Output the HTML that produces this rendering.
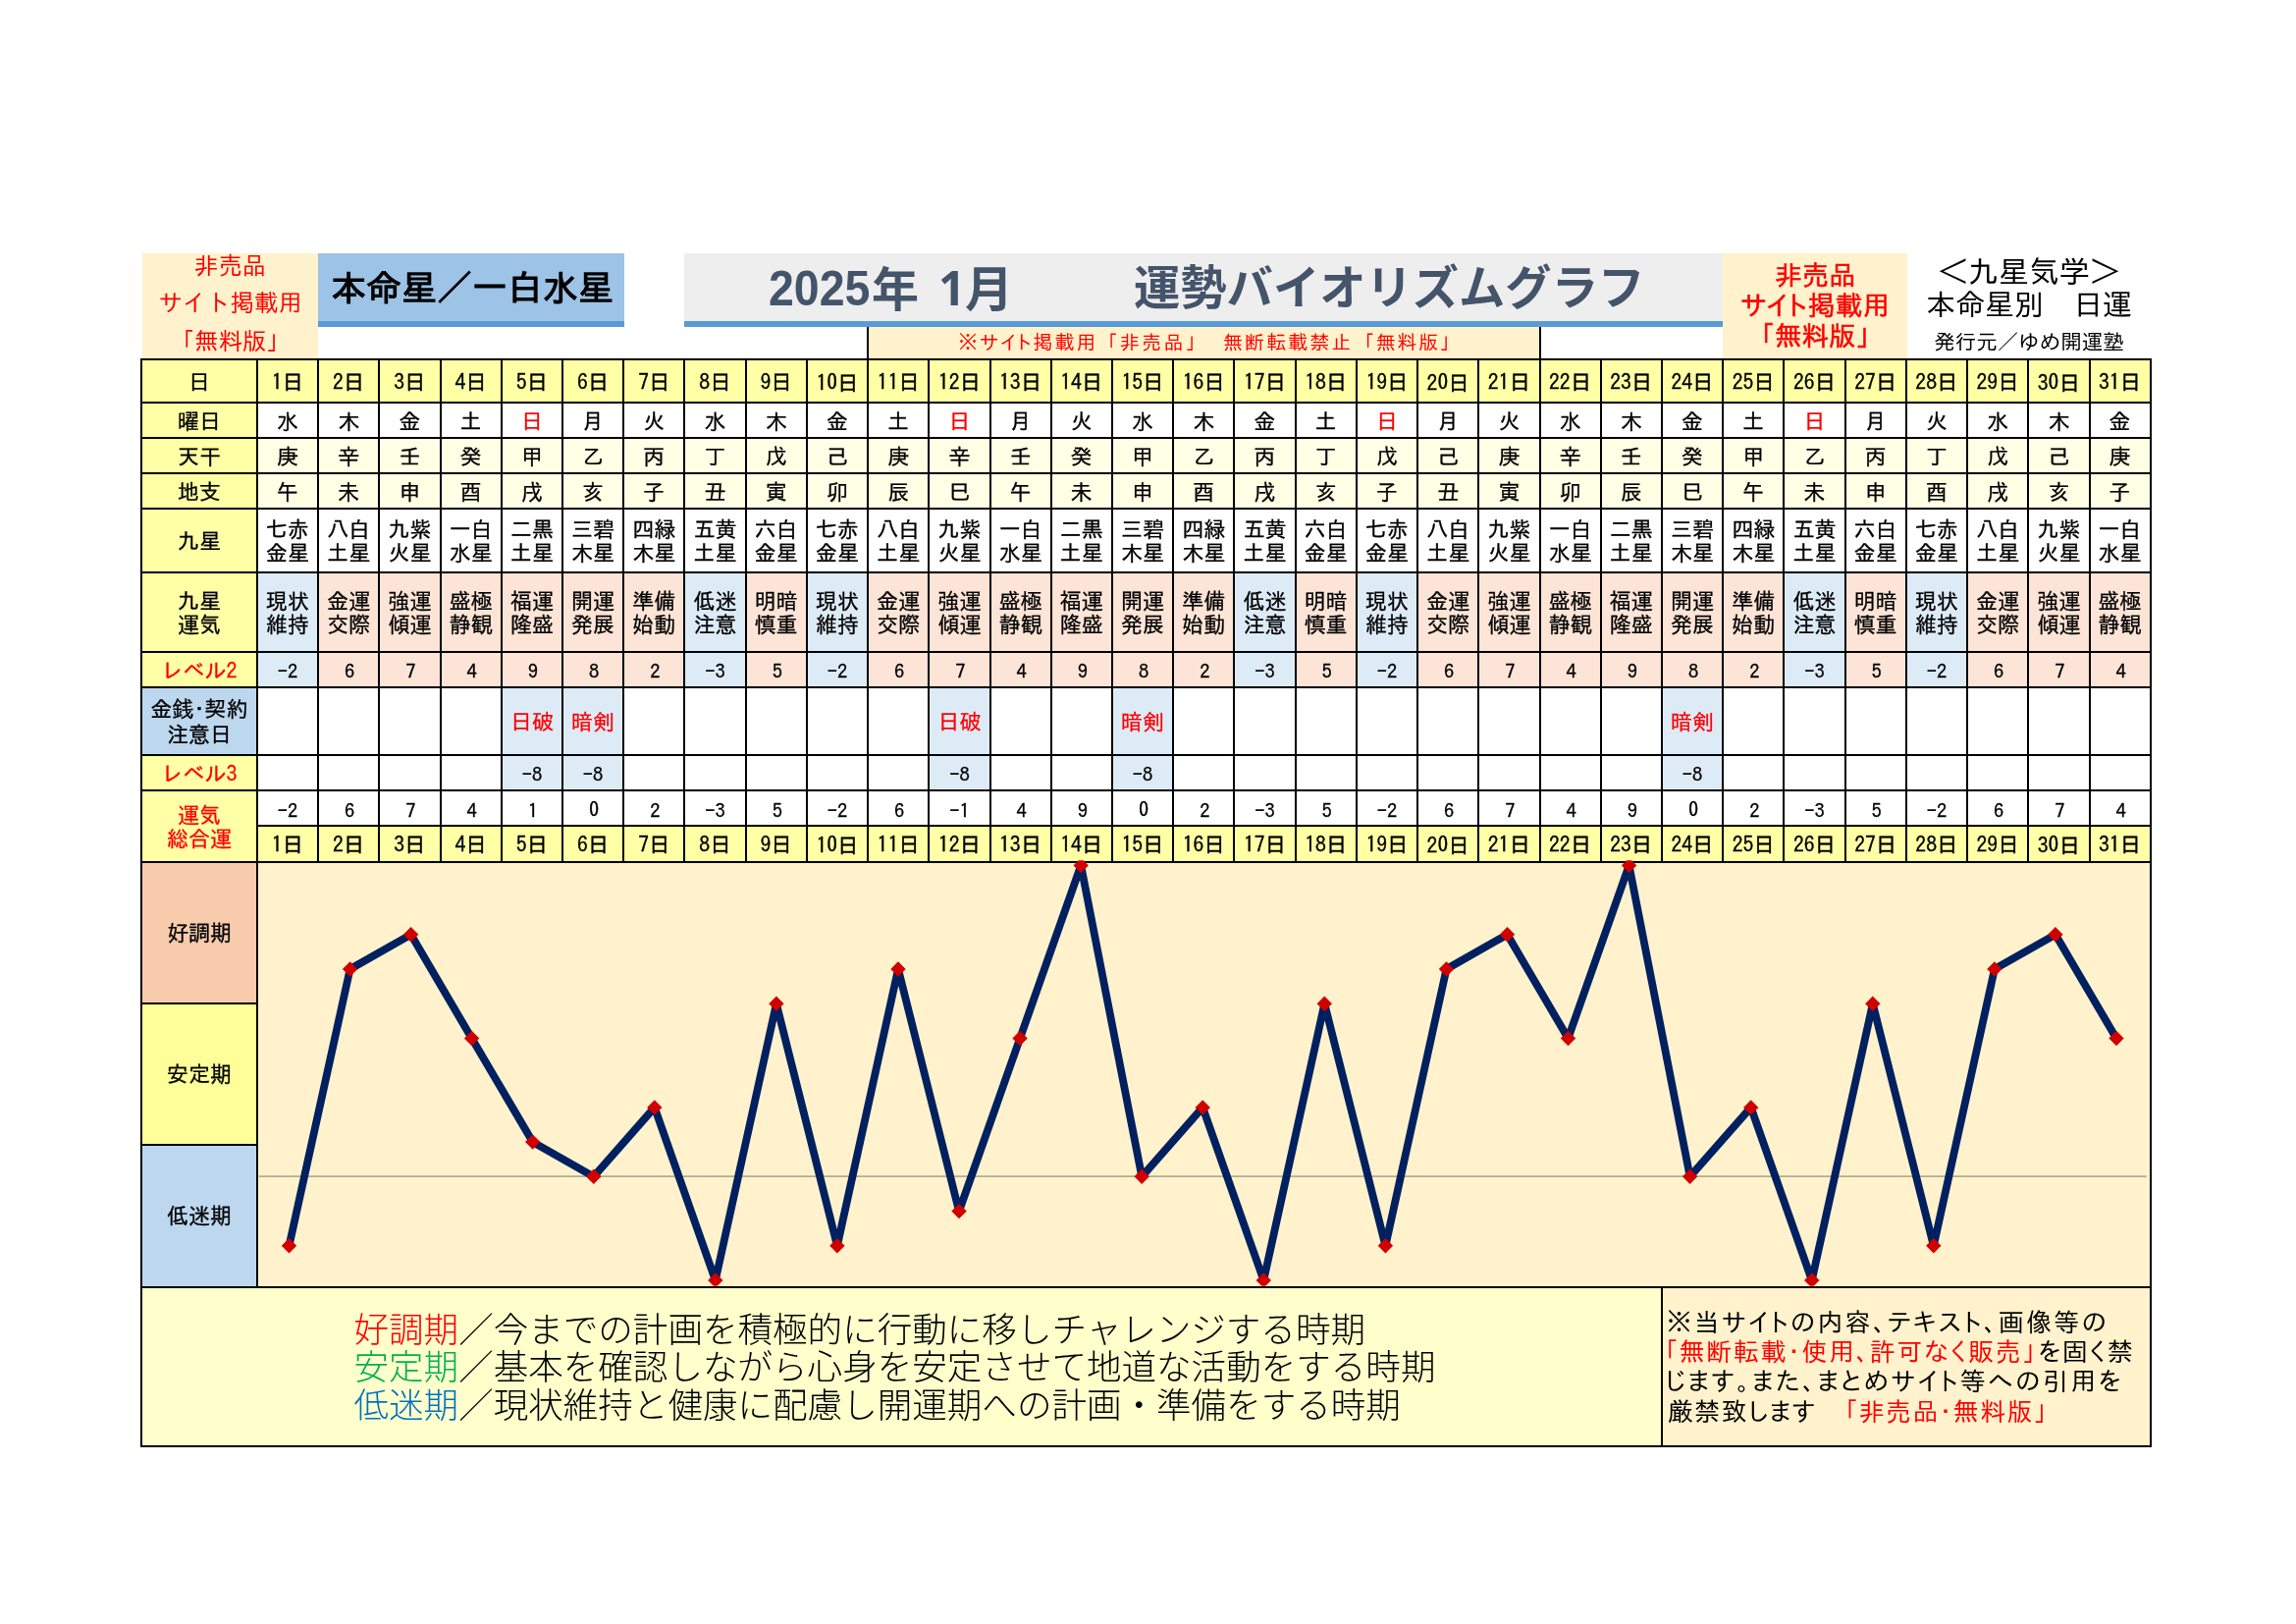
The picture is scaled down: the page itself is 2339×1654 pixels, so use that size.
<!DOCTYPE html>
<html lang="ja"><head><meta charset="utf-8"><title>運勢バイオリズムグラフ</title><style>
*{margin:0;padding:0;box-sizing:border-box}
html,body{width:2339px;height:1654px;background:#fff;overflow:hidden}
body{position:relative;font-family:"IPAGothic","Noto Sans CJK JP",sans-serif;color:#000}
.b{position:absolute}
.t{position:absolute;display:flex;align-items:center;justify-content:center;text-align:center;white-space:nowrap;font-size:22px;line-height:1}
.c{font-size:22px;padding-top:2px;-webkit-text-stroke-width:0.3px}
.lh2{line-height:24.6px}
.lh26{line-height:26.4px}
.red{color:#FF0000}
.hd{font-size:21.6px;padding-top:2.5px;-webkit-text-stroke:0.35px #000}
.hd1{padding-top:4.3px}
.num{font-size:20.5px;padding-top:3px;padding-left:2px}
.neg{padding-left:0}
.np{padding-top:0}
.tl{color:#FF0000;font-size:24.4px;line-height:38.8px;padding-bottom:5px}
.tr{color:#FF0000;font-size:27.5px;line-height:31px;font-family:"IPAPGothic","IPAGothic",sans-serif;-webkit-text-stroke:0.55px #FF0000;padding-bottom:0.6px}
.tb{font-size:36px;font-weight:bold;justify-content:flex-start;padding-left:13px;padding-bottom:2px}
.tt{color:#44546A;font-weight:bold;justify-content:flex-start}
.ty{position:absolute;white-space:nowrap;color:#44546A;font-weight:bold;line-height:1;font-family:"Liberation Sans",sans-serif;font-size:50px;transform:scaleX(0.93);transform-origin:0 0}
.ty1{position:absolute;white-space:nowrap;color:#44546A;font-weight:bold;line-height:1;font-family:"Noto Sans","Liberation Sans",sans-serif;font-size:48px}
.tk{position:absolute;white-space:nowrap;color:#44546A;font-weight:bold;line-height:1;font-family:"Noto Sans CJK JP",sans-serif;font-size:48px}
.tg{position:absolute;white-space:nowrap;color:#44546A;font-weight:bold;line-height:1;font-family:"Noto Sans CJK JP",sans-serif;font-size:47.3px}
.k1{font-size:31px;padding-bottom:6px}
.k2{font-size:30px}
.k3{font-size:21.5px;padding-top:2px}
.nt{position:absolute;white-space:nowrap;color:#FF0000;font-size:20px;line-height:24px}
.ntp{font-family:"IPAPGothic","IPAGothic",sans-serif}
.lg{position:absolute;white-space:nowrap;font-family:"Noto Sans CJK JP",sans-serif;font-weight:300;font-size:35.55px;line-height:38.5px;color:#000}
.nb{position:absolute;white-space:nowrap;font-family:"IPAPGothic","IPAGothic",sans-serif;font-size:26px;line-height:30.5px;color:#000}
.nb .r{color:#FF0000}
.ch{position:absolute;left:0;top:0;pointer-events:none}
#w{position:absolute;left:0;top:0;width:2339px;height:1654px;will-change:transform}
.z{font-family:"Noto Sans Mono CJK JP","IPAGothic",monospace;position:relative;top:-0.09em}
</style></head><body><div id="w">
<div class="b" style="left:145.00px;top:258.00px;width:179.20px;height:106.50px;background:#FFF2CC;"></div>
<div class="t tl" style="left:145.00px;top:258.00px;width:179.20px;height:106.50px;"><div>非売品<br>サイト掲載用<br>「無料版」</div></div>
<div class="b" style="left:324.00px;top:258.00px;width:311.80px;height:75.20px;background:#9DC3E6;"></div>
<div class="b" style="left:324.00px;top:327.20px;width:311.80px;height:6.00px;background:#5B9BD5;"></div>
<div class="t tb" style="left:324.00px;top:258.00px;width:311.80px;height:69.20px;"><div>本命星／一白水星</div></div>
<div class="b" style="left:697.00px;top:258.00px;width:1058.40px;height:75.20px;background:#EEEEEE;"></div>
<div class="b" style="left:697.00px;top:327.20px;width:1058.40px;height:6.00px;background:#5B9BD5;"></div>
<div class="ty" style="left:782.5px;top:269px">2025</div>
<div class="tk" style="left:888px;top:266.5px">年</div>
<div class="ty1" style="left:956px;top:269px">1</div>
<div class="tk" style="left:983px;top:266px;font-size:49px">月</div>
<div class="tg" style="left:1155px;top:266px">運勢バイオリズムグラフ</div>
<div class="b" style="left:1755.40px;top:258.00px;width:187.60px;height:106.50px;background:#FFF2CC;"></div>
<div class="t tr" style="left:1755.40px;top:258.00px;width:187.60px;height:106.50px;"><div>非売品<br><span style="letter-spacing:0.6px;margin-right:-0.6px">サイト掲載用</span><br>「無料版」</div></div>
<div class="t k1" style="left:1943.00px;top:258.00px;width:248.00px;height:42.00px;"><div>＜九星気学＞</div></div>
<div class="t k2" style="left:1943.00px;top:290.00px;width:248.00px;height:40.00px;"><div>本命星別　日運</div></div>
<div class="t k3" style="left:1943.00px;top:334.00px;width:248.00px;height:28.00px;"><div>発行元／ゆめ開運塾</div></div>
<div class="b" style="left:884.10px;top:333.20px;width:684.42px;height:32.80px;background:#FFF2CC;"></div>
<div class="b" style="left:883.10px;top:333.20px;width:2.00px;height:33.80px;background:#000;"></div>
<div class="b" style="left:1567.52px;top:333.20px;width:2.00px;height:33.80px;background:#000;"></div>
<div class="nt ntp" style="left:976px;top:336px;letter-spacing:2px">※サイト掲載用</div>
<div class="nt" style="left:1118.5px;top:336px;letter-spacing:2.3px">「非売品」</div>
<div class="nt" style="left:1246px;top:336px;letter-spacing:2.1px">無断転載禁止</div>
<div class="nt" style="left:1380px;top:336px;letter-spacing:1.7px">「無料版」</div>
<div class="b" style="left:144.00px;top:366.00px;width:117.90px;height:333.80px;background:#FFFFA5;"></div>
<div class="b" style="left:144.00px;top:699.80px;width:117.90px;height:68.80px;background:#BDD7EE;"></div>
<div class="b" style="left:144.00px;top:768.60px;width:117.90px;height:109.20px;background:#FFFFA5;"></div>
<div class="b" style="left:144.00px;top:877.80px;width:117.90px;height:144.20px;background:#F8CBAD;"></div>
<div class="b" style="left:144.00px;top:1022.00px;width:117.90px;height:144.25px;background:#FFFF99;"></div>
<div class="b" style="left:144.00px;top:1166.25px;width:117.90px;height:144.35px;background:#BDD7EE;"></div>
<div class="t c " style="left:144.00px;top:366.00px;width:117.90px;height:43.50px;"><div>日</div></div>
<div class="t c " style="left:144.00px;top:409.50px;width:117.90px;height:36.00px;"><div>曜日</div></div>
<div class="t c " style="left:144.00px;top:445.50px;width:117.90px;height:36.25px;"><div>天干</div></div>
<div class="t c " style="left:144.00px;top:481.75px;width:117.90px;height:36.25px;"><div>地支</div></div>
<div class="t c " style="left:144.00px;top:518.00px;width:117.90px;height:64.70px;"><div>九星</div></div>
<div class="t c lh2" style="left:144.00px;top:582.70px;width:117.90px;height:81.20px;"><div>九星<br>運気</div></div>
<div class="t c red" style="left:144.00px;top:663.90px;width:117.90px;height:35.90px;"><div>レベル2</div></div>
<div class="t c lh26" style="left:144.00px;top:699.80px;width:117.90px;height:68.80px;"><div>金銭･契約<br>注意日</div></div>
<div class="t c red" style="left:144.00px;top:768.60px;width:117.90px;height:36.60px;"><div>レベル3</div></div>
<div class="t c red lh2" style="left:144.00px;top:805.20px;width:117.90px;height:72.60px;"><div>運気<br>総合運</div></div>
<div class="t c np" style="left:144.00px;top:877.80px;width:117.90px;height:144.20px;"><div>好調期</div></div>
<div class="t c np" style="left:144.00px;top:1022.00px;width:117.90px;height:144.25px;"><div>安定期</div></div>
<div class="t c np" style="left:144.00px;top:1166.25px;width:117.90px;height:144.35px;"><div>低迷期</div></div>
<div class="b" style="left:261.90px;top:366.00px;width:62.22px;height:43.50px;background:#FFFFA5;"></div>
<div class="b" style="left:261.90px;top:445.50px;width:62.22px;height:72.50px;background:#FFFFE6;"></div>
<div class="b" style="left:261.90px;top:582.70px;width:62.22px;height:117.10px;background:#DDEBF7;"></div>
<div class="b" style="left:261.90px;top:841.40px;width:62.22px;height:36.40px;background:#FFFFA5;"></div>
<div class="t c hd hd1" style="left:261.90px;top:366.00px;width:62.22px;height:43.50px;"><div>1日</div></div>
<div class="t c" style="left:261.90px;top:409.50px;width:62.22px;height:36.00px;"><div>水</div></div>
<div class="t c" style="left:261.90px;top:445.50px;width:62.22px;height:36.25px;"><div>庚</div></div>
<div class="t c" style="left:261.90px;top:481.75px;width:62.22px;height:36.25px;"><div>午</div></div>
<div class="t c lh2" style="left:261.90px;top:518.00px;width:62.22px;height:64.70px;"><div>七赤<br>金星</div></div>
<div class="t c lh2" style="left:261.90px;top:582.70px;width:62.22px;height:81.20px;"><div>現状<br>維持</div></div>
<div class="t c num neg" style="left:261.90px;top:663.90px;width:62.22px;height:35.90px;"><div>−2</div></div>
<div class="t c num neg" style="left:261.90px;top:805.20px;width:62.22px;height:36.20px;"><div>−2</div></div>
<div class="t c hd" style="left:261.90px;top:841.40px;width:62.22px;height:36.40px;"><div>1日</div></div>
<div class="b" style="left:324.12px;top:366.00px;width:62.22px;height:43.50px;background:#FFFFA5;"></div>
<div class="b" style="left:324.12px;top:445.50px;width:62.22px;height:72.50px;background:#FFFFE6;"></div>
<div class="b" style="left:324.12px;top:582.70px;width:62.22px;height:117.10px;background:#FCE4D6;"></div>
<div class="b" style="left:324.12px;top:841.40px;width:62.22px;height:36.40px;background:#FFFFA5;"></div>
<div class="t c hd hd1" style="left:324.12px;top:366.00px;width:62.22px;height:43.50px;"><div>2日</div></div>
<div class="t c" style="left:324.12px;top:409.50px;width:62.22px;height:36.00px;"><div>木</div></div>
<div class="t c" style="left:324.12px;top:445.50px;width:62.22px;height:36.25px;"><div>辛</div></div>
<div class="t c" style="left:324.12px;top:481.75px;width:62.22px;height:36.25px;"><div>未</div></div>
<div class="t c lh2" style="left:324.12px;top:518.00px;width:62.22px;height:64.70px;"><div>八白<br>土星</div></div>
<div class="t c lh2" style="left:324.12px;top:582.70px;width:62.22px;height:81.20px;"><div>金運<br>交際</div></div>
<div class="t c num" style="left:324.12px;top:663.90px;width:62.22px;height:35.90px;"><div>6</div></div>
<div class="t c num" style="left:324.12px;top:805.20px;width:62.22px;height:36.20px;"><div>6</div></div>
<div class="t c hd" style="left:324.12px;top:841.40px;width:62.22px;height:36.40px;"><div>2日</div></div>
<div class="b" style="left:386.34px;top:366.00px;width:62.22px;height:43.50px;background:#FFFFA5;"></div>
<div class="b" style="left:386.34px;top:445.50px;width:62.22px;height:72.50px;background:#FFFFE6;"></div>
<div class="b" style="left:386.34px;top:582.70px;width:62.22px;height:117.10px;background:#FCE4D6;"></div>
<div class="b" style="left:386.34px;top:841.40px;width:62.22px;height:36.40px;background:#FFFFA5;"></div>
<div class="t c hd hd1" style="left:386.34px;top:366.00px;width:62.22px;height:43.50px;"><div>3日</div></div>
<div class="t c" style="left:386.34px;top:409.50px;width:62.22px;height:36.00px;"><div>金</div></div>
<div class="t c" style="left:386.34px;top:445.50px;width:62.22px;height:36.25px;"><div>壬</div></div>
<div class="t c" style="left:386.34px;top:481.75px;width:62.22px;height:36.25px;"><div>申</div></div>
<div class="t c lh2" style="left:386.34px;top:518.00px;width:62.22px;height:64.70px;"><div>九紫<br>火星</div></div>
<div class="t c lh2" style="left:386.34px;top:582.70px;width:62.22px;height:81.20px;"><div>強運<br>傾運</div></div>
<div class="t c num" style="left:386.34px;top:663.90px;width:62.22px;height:35.90px;"><div>7</div></div>
<div class="t c num" style="left:386.34px;top:805.20px;width:62.22px;height:36.20px;"><div>7</div></div>
<div class="t c hd" style="left:386.34px;top:841.40px;width:62.22px;height:36.40px;"><div>3日</div></div>
<div class="b" style="left:448.56px;top:366.00px;width:62.22px;height:43.50px;background:#FFFFA5;"></div>
<div class="b" style="left:448.56px;top:445.50px;width:62.22px;height:72.50px;background:#FFFFE6;"></div>
<div class="b" style="left:448.56px;top:582.70px;width:62.22px;height:117.10px;background:#FCE4D6;"></div>
<div class="b" style="left:448.56px;top:841.40px;width:62.22px;height:36.40px;background:#FFFFA5;"></div>
<div class="t c hd hd1" style="left:448.56px;top:366.00px;width:62.22px;height:43.50px;"><div>4日</div></div>
<div class="t c" style="left:448.56px;top:409.50px;width:62.22px;height:36.00px;"><div>土</div></div>
<div class="t c" style="left:448.56px;top:445.50px;width:62.22px;height:36.25px;"><div>癸</div></div>
<div class="t c" style="left:448.56px;top:481.75px;width:62.22px;height:36.25px;"><div>酉</div></div>
<div class="t c lh2" style="left:448.56px;top:518.00px;width:62.22px;height:64.70px;"><div>一白<br>水星</div></div>
<div class="t c lh2" style="left:448.56px;top:582.70px;width:62.22px;height:81.20px;"><div>盛極<br>静観</div></div>
<div class="t c num" style="left:448.56px;top:663.90px;width:62.22px;height:35.90px;"><div>4</div></div>
<div class="t c num" style="left:448.56px;top:805.20px;width:62.22px;height:36.20px;"><div>4</div></div>
<div class="t c hd" style="left:448.56px;top:841.40px;width:62.22px;height:36.40px;"><div>4日</div></div>
<div class="b" style="left:510.78px;top:366.00px;width:62.22px;height:43.50px;background:#FFFFA5;"></div>
<div class="b" style="left:510.78px;top:445.50px;width:62.22px;height:72.50px;background:#FFFFE6;"></div>
<div class="b" style="left:510.78px;top:582.70px;width:62.22px;height:117.10px;background:#FCE4D6;"></div>
<div class="b" style="left:510.78px;top:699.80px;width:62.22px;height:105.40px;background:#DDEBF7;"></div>
<div class="b" style="left:510.78px;top:841.40px;width:62.22px;height:36.40px;background:#FFFFA5;"></div>
<div class="t c hd hd1" style="left:510.78px;top:366.00px;width:62.22px;height:43.50px;"><div>5日</div></div>
<div class="t c red" style="left:510.78px;top:409.50px;width:62.22px;height:36.00px;"><div>日</div></div>
<div class="t c" style="left:510.78px;top:445.50px;width:62.22px;height:36.25px;"><div>甲</div></div>
<div class="t c" style="left:510.78px;top:481.75px;width:62.22px;height:36.25px;"><div>戌</div></div>
<div class="t c lh2" style="left:510.78px;top:518.00px;width:62.22px;height:64.70px;"><div>二黒<br>土星</div></div>
<div class="t c lh2" style="left:510.78px;top:582.70px;width:62.22px;height:81.20px;"><div>福運<br>隆盛</div></div>
<div class="t c num" style="left:510.78px;top:663.90px;width:62.22px;height:35.90px;"><div>9</div></div>
<div class="t c red" style="left:510.78px;top:699.80px;width:62.22px;height:68.80px;"><div>日破</div></div>
<div class="t c num neg" style="left:510.78px;top:768.60px;width:62.22px;height:36.60px;"><div>−8</div></div>
<div class="t c num" style="left:510.78px;top:805.20px;width:62.22px;height:36.20px;"><div>1</div></div>
<div class="t c hd" style="left:510.78px;top:841.40px;width:62.22px;height:36.40px;"><div>5日</div></div>
<div class="b" style="left:573.00px;top:366.00px;width:62.22px;height:43.50px;background:#FFFFA5;"></div>
<div class="b" style="left:573.00px;top:445.50px;width:62.22px;height:72.50px;background:#FFFFE6;"></div>
<div class="b" style="left:573.00px;top:582.70px;width:62.22px;height:117.10px;background:#FCE4D6;"></div>
<div class="b" style="left:573.00px;top:699.80px;width:62.22px;height:105.40px;background:#DDEBF7;"></div>
<div class="b" style="left:573.00px;top:841.40px;width:62.22px;height:36.40px;background:#FFFFA5;"></div>
<div class="t c hd hd1" style="left:573.00px;top:366.00px;width:62.22px;height:43.50px;"><div>6日</div></div>
<div class="t c" style="left:573.00px;top:409.50px;width:62.22px;height:36.00px;"><div>月</div></div>
<div class="t c" style="left:573.00px;top:445.50px;width:62.22px;height:36.25px;"><div>乙</div></div>
<div class="t c" style="left:573.00px;top:481.75px;width:62.22px;height:36.25px;"><div>亥</div></div>
<div class="t c lh2" style="left:573.00px;top:518.00px;width:62.22px;height:64.70px;"><div>三碧<br>木星</div></div>
<div class="t c lh2" style="left:573.00px;top:582.70px;width:62.22px;height:81.20px;"><div>開運<br>発展</div></div>
<div class="t c num" style="left:573.00px;top:663.90px;width:62.22px;height:35.90px;"><div>8</div></div>
<div class="t c red" style="left:573.00px;top:699.80px;width:62.22px;height:68.80px;"><div>暗剣</div></div>
<div class="t c num neg" style="left:573.00px;top:768.60px;width:62.22px;height:36.60px;"><div>−8</div></div>
<div class="t c num" style="left:573.00px;top:805.20px;width:62.22px;height:36.20px;"><div><span class="z">0</span></div></div>
<div class="t c hd" style="left:573.00px;top:841.40px;width:62.22px;height:36.40px;"><div>6日</div></div>
<div class="b" style="left:635.22px;top:366.00px;width:62.22px;height:43.50px;background:#FFFFA5;"></div>
<div class="b" style="left:635.22px;top:445.50px;width:62.22px;height:72.50px;background:#FFFFE6;"></div>
<div class="b" style="left:635.22px;top:582.70px;width:62.22px;height:117.10px;background:#FCE4D6;"></div>
<div class="b" style="left:635.22px;top:841.40px;width:62.22px;height:36.40px;background:#FFFFA5;"></div>
<div class="t c hd hd1" style="left:635.22px;top:366.00px;width:62.22px;height:43.50px;"><div>7日</div></div>
<div class="t c" style="left:635.22px;top:409.50px;width:62.22px;height:36.00px;"><div>火</div></div>
<div class="t c" style="left:635.22px;top:445.50px;width:62.22px;height:36.25px;"><div>丙</div></div>
<div class="t c" style="left:635.22px;top:481.75px;width:62.22px;height:36.25px;"><div>子</div></div>
<div class="t c lh2" style="left:635.22px;top:518.00px;width:62.22px;height:64.70px;"><div>四緑<br>木星</div></div>
<div class="t c lh2" style="left:635.22px;top:582.70px;width:62.22px;height:81.20px;"><div>準備<br>始動</div></div>
<div class="t c num" style="left:635.22px;top:663.90px;width:62.22px;height:35.90px;"><div>2</div></div>
<div class="t c num" style="left:635.22px;top:805.20px;width:62.22px;height:36.20px;"><div>2</div></div>
<div class="t c hd" style="left:635.22px;top:841.40px;width:62.22px;height:36.40px;"><div>7日</div></div>
<div class="b" style="left:697.44px;top:366.00px;width:62.22px;height:43.50px;background:#FFFFA5;"></div>
<div class="b" style="left:697.44px;top:445.50px;width:62.22px;height:72.50px;background:#FFFFE6;"></div>
<div class="b" style="left:697.44px;top:582.70px;width:62.22px;height:117.10px;background:#DDEBF7;"></div>
<div class="b" style="left:697.44px;top:841.40px;width:62.22px;height:36.40px;background:#FFFFA5;"></div>
<div class="t c hd hd1" style="left:697.44px;top:366.00px;width:62.22px;height:43.50px;"><div>8日</div></div>
<div class="t c" style="left:697.44px;top:409.50px;width:62.22px;height:36.00px;"><div>水</div></div>
<div class="t c" style="left:697.44px;top:445.50px;width:62.22px;height:36.25px;"><div>丁</div></div>
<div class="t c" style="left:697.44px;top:481.75px;width:62.22px;height:36.25px;"><div>丑</div></div>
<div class="t c lh2" style="left:697.44px;top:518.00px;width:62.22px;height:64.70px;"><div>五黄<br>土星</div></div>
<div class="t c lh2" style="left:697.44px;top:582.70px;width:62.22px;height:81.20px;"><div>低迷<br>注意</div></div>
<div class="t c num neg" style="left:697.44px;top:663.90px;width:62.22px;height:35.90px;"><div>−3</div></div>
<div class="t c num neg" style="left:697.44px;top:805.20px;width:62.22px;height:36.20px;"><div>−3</div></div>
<div class="t c hd" style="left:697.44px;top:841.40px;width:62.22px;height:36.40px;"><div>8日</div></div>
<div class="b" style="left:759.66px;top:366.00px;width:62.22px;height:43.50px;background:#FFFFA5;"></div>
<div class="b" style="left:759.66px;top:445.50px;width:62.22px;height:72.50px;background:#FFFFE6;"></div>
<div class="b" style="left:759.66px;top:582.70px;width:62.22px;height:117.10px;background:#FCE4D6;"></div>
<div class="b" style="left:759.66px;top:841.40px;width:62.22px;height:36.40px;background:#FFFFA5;"></div>
<div class="t c hd hd1" style="left:759.66px;top:366.00px;width:62.22px;height:43.50px;"><div>9日</div></div>
<div class="t c" style="left:759.66px;top:409.50px;width:62.22px;height:36.00px;"><div>木</div></div>
<div class="t c" style="left:759.66px;top:445.50px;width:62.22px;height:36.25px;"><div>戊</div></div>
<div class="t c" style="left:759.66px;top:481.75px;width:62.22px;height:36.25px;"><div>寅</div></div>
<div class="t c lh2" style="left:759.66px;top:518.00px;width:62.22px;height:64.70px;"><div>六白<br>金星</div></div>
<div class="t c lh2" style="left:759.66px;top:582.70px;width:62.22px;height:81.20px;"><div>明暗<br>慎重</div></div>
<div class="t c num" style="left:759.66px;top:663.90px;width:62.22px;height:35.90px;"><div>5</div></div>
<div class="t c num" style="left:759.66px;top:805.20px;width:62.22px;height:36.20px;"><div>5</div></div>
<div class="t c hd" style="left:759.66px;top:841.40px;width:62.22px;height:36.40px;"><div>9日</div></div>
<div class="b" style="left:821.88px;top:366.00px;width:62.22px;height:43.50px;background:#FFFFA5;"></div>
<div class="b" style="left:821.88px;top:445.50px;width:62.22px;height:72.50px;background:#FFFFE6;"></div>
<div class="b" style="left:821.88px;top:582.70px;width:62.22px;height:117.10px;background:#DDEBF7;"></div>
<div class="b" style="left:821.88px;top:841.40px;width:62.22px;height:36.40px;background:#FFFFA5;"></div>
<div class="t c hd hd1" style="left:821.88px;top:366.00px;width:62.22px;height:43.50px;"><div>1<span class="z">0</span>日</div></div>
<div class="t c" style="left:821.88px;top:409.50px;width:62.22px;height:36.00px;"><div>金</div></div>
<div class="t c" style="left:821.88px;top:445.50px;width:62.22px;height:36.25px;"><div>己</div></div>
<div class="t c" style="left:821.88px;top:481.75px;width:62.22px;height:36.25px;"><div>卯</div></div>
<div class="t c lh2" style="left:821.88px;top:518.00px;width:62.22px;height:64.70px;"><div>七赤<br>金星</div></div>
<div class="t c lh2" style="left:821.88px;top:582.70px;width:62.22px;height:81.20px;"><div>現状<br>維持</div></div>
<div class="t c num neg" style="left:821.88px;top:663.90px;width:62.22px;height:35.90px;"><div>−2</div></div>
<div class="t c num neg" style="left:821.88px;top:805.20px;width:62.22px;height:36.20px;"><div>−2</div></div>
<div class="t c hd" style="left:821.88px;top:841.40px;width:62.22px;height:36.40px;"><div>1<span class="z">0</span>日</div></div>
<div class="b" style="left:884.10px;top:366.00px;width:62.22px;height:43.50px;background:#FFFFA5;"></div>
<div class="b" style="left:884.10px;top:445.50px;width:62.22px;height:72.50px;background:#FFFFE6;"></div>
<div class="b" style="left:884.10px;top:582.70px;width:62.22px;height:117.10px;background:#FCE4D6;"></div>
<div class="b" style="left:884.10px;top:841.40px;width:62.22px;height:36.40px;background:#FFFFA5;"></div>
<div class="t c hd hd1" style="left:884.10px;top:366.00px;width:62.22px;height:43.50px;"><div>11日</div></div>
<div class="t c" style="left:884.10px;top:409.50px;width:62.22px;height:36.00px;"><div>土</div></div>
<div class="t c" style="left:884.10px;top:445.50px;width:62.22px;height:36.25px;"><div>庚</div></div>
<div class="t c" style="left:884.10px;top:481.75px;width:62.22px;height:36.25px;"><div>辰</div></div>
<div class="t c lh2" style="left:884.10px;top:518.00px;width:62.22px;height:64.70px;"><div>八白<br>土星</div></div>
<div class="t c lh2" style="left:884.10px;top:582.70px;width:62.22px;height:81.20px;"><div>金運<br>交際</div></div>
<div class="t c num" style="left:884.10px;top:663.90px;width:62.22px;height:35.90px;"><div>6</div></div>
<div class="t c num" style="left:884.10px;top:805.20px;width:62.22px;height:36.20px;"><div>6</div></div>
<div class="t c hd" style="left:884.10px;top:841.40px;width:62.22px;height:36.40px;"><div>11日</div></div>
<div class="b" style="left:946.32px;top:366.00px;width:62.22px;height:43.50px;background:#FFFFA5;"></div>
<div class="b" style="left:946.32px;top:445.50px;width:62.22px;height:72.50px;background:#FFFFE6;"></div>
<div class="b" style="left:946.32px;top:582.70px;width:62.22px;height:117.10px;background:#FCE4D6;"></div>
<div class="b" style="left:946.32px;top:699.80px;width:62.22px;height:105.40px;background:#DDEBF7;"></div>
<div class="b" style="left:946.32px;top:841.40px;width:62.22px;height:36.40px;background:#FFFFA5;"></div>
<div class="t c hd hd1" style="left:946.32px;top:366.00px;width:62.22px;height:43.50px;"><div>12日</div></div>
<div class="t c red" style="left:946.32px;top:409.50px;width:62.22px;height:36.00px;"><div>日</div></div>
<div class="t c" style="left:946.32px;top:445.50px;width:62.22px;height:36.25px;"><div>辛</div></div>
<div class="t c" style="left:946.32px;top:481.75px;width:62.22px;height:36.25px;"><div>巳</div></div>
<div class="t c lh2" style="left:946.32px;top:518.00px;width:62.22px;height:64.70px;"><div>九紫<br>火星</div></div>
<div class="t c lh2" style="left:946.32px;top:582.70px;width:62.22px;height:81.20px;"><div>強運<br>傾運</div></div>
<div class="t c num" style="left:946.32px;top:663.90px;width:62.22px;height:35.90px;"><div>7</div></div>
<div class="t c red" style="left:946.32px;top:699.80px;width:62.22px;height:68.80px;"><div>日破</div></div>
<div class="t c num neg" style="left:946.32px;top:768.60px;width:62.22px;height:36.60px;"><div>−8</div></div>
<div class="t c num neg" style="left:946.32px;top:805.20px;width:62.22px;height:36.20px;"><div>−1</div></div>
<div class="t c hd" style="left:946.32px;top:841.40px;width:62.22px;height:36.40px;"><div>12日</div></div>
<div class="b" style="left:1008.54px;top:366.00px;width:62.22px;height:43.50px;background:#FFFFA5;"></div>
<div class="b" style="left:1008.54px;top:445.50px;width:62.22px;height:72.50px;background:#FFFFE6;"></div>
<div class="b" style="left:1008.54px;top:582.70px;width:62.22px;height:117.10px;background:#FCE4D6;"></div>
<div class="b" style="left:1008.54px;top:841.40px;width:62.22px;height:36.40px;background:#FFFFA5;"></div>
<div class="t c hd hd1" style="left:1008.54px;top:366.00px;width:62.22px;height:43.50px;"><div>13日</div></div>
<div class="t c" style="left:1008.54px;top:409.50px;width:62.22px;height:36.00px;"><div>月</div></div>
<div class="t c" style="left:1008.54px;top:445.50px;width:62.22px;height:36.25px;"><div>壬</div></div>
<div class="t c" style="left:1008.54px;top:481.75px;width:62.22px;height:36.25px;"><div>午</div></div>
<div class="t c lh2" style="left:1008.54px;top:518.00px;width:62.22px;height:64.70px;"><div>一白<br>水星</div></div>
<div class="t c lh2" style="left:1008.54px;top:582.70px;width:62.22px;height:81.20px;"><div>盛極<br>静観</div></div>
<div class="t c num" style="left:1008.54px;top:663.90px;width:62.22px;height:35.90px;"><div>4</div></div>
<div class="t c num" style="left:1008.54px;top:805.20px;width:62.22px;height:36.20px;"><div>4</div></div>
<div class="t c hd" style="left:1008.54px;top:841.40px;width:62.22px;height:36.40px;"><div>13日</div></div>
<div class="b" style="left:1070.76px;top:366.00px;width:62.22px;height:43.50px;background:#FFFFA5;"></div>
<div class="b" style="left:1070.76px;top:445.50px;width:62.22px;height:72.50px;background:#FFFFE6;"></div>
<div class="b" style="left:1070.76px;top:582.70px;width:62.22px;height:117.10px;background:#FCE4D6;"></div>
<div class="b" style="left:1070.76px;top:841.40px;width:62.22px;height:36.40px;background:#FFFFA5;"></div>
<div class="t c hd hd1" style="left:1070.76px;top:366.00px;width:62.22px;height:43.50px;"><div>14日</div></div>
<div class="t c" style="left:1070.76px;top:409.50px;width:62.22px;height:36.00px;"><div>火</div></div>
<div class="t c" style="left:1070.76px;top:445.50px;width:62.22px;height:36.25px;"><div>癸</div></div>
<div class="t c" style="left:1070.76px;top:481.75px;width:62.22px;height:36.25px;"><div>未</div></div>
<div class="t c lh2" style="left:1070.76px;top:518.00px;width:62.22px;height:64.70px;"><div>二黒<br>土星</div></div>
<div class="t c lh2" style="left:1070.76px;top:582.70px;width:62.22px;height:81.20px;"><div>福運<br>隆盛</div></div>
<div class="t c num" style="left:1070.76px;top:663.90px;width:62.22px;height:35.90px;"><div>9</div></div>
<div class="t c num" style="left:1070.76px;top:805.20px;width:62.22px;height:36.20px;"><div>9</div></div>
<div class="t c hd" style="left:1070.76px;top:841.40px;width:62.22px;height:36.40px;"><div>14日</div></div>
<div class="b" style="left:1132.98px;top:366.00px;width:62.22px;height:43.50px;background:#FFFFA5;"></div>
<div class="b" style="left:1132.98px;top:445.50px;width:62.22px;height:72.50px;background:#FFFFE6;"></div>
<div class="b" style="left:1132.98px;top:582.70px;width:62.22px;height:117.10px;background:#FCE4D6;"></div>
<div class="b" style="left:1132.98px;top:699.80px;width:62.22px;height:105.40px;background:#DDEBF7;"></div>
<div class="b" style="left:1132.98px;top:841.40px;width:62.22px;height:36.40px;background:#FFFFA5;"></div>
<div class="t c hd hd1" style="left:1132.98px;top:366.00px;width:62.22px;height:43.50px;"><div>15日</div></div>
<div class="t c" style="left:1132.98px;top:409.50px;width:62.22px;height:36.00px;"><div>水</div></div>
<div class="t c" style="left:1132.98px;top:445.50px;width:62.22px;height:36.25px;"><div>甲</div></div>
<div class="t c" style="left:1132.98px;top:481.75px;width:62.22px;height:36.25px;"><div>申</div></div>
<div class="t c lh2" style="left:1132.98px;top:518.00px;width:62.22px;height:64.70px;"><div>三碧<br>木星</div></div>
<div class="t c lh2" style="left:1132.98px;top:582.70px;width:62.22px;height:81.20px;"><div>開運<br>発展</div></div>
<div class="t c num" style="left:1132.98px;top:663.90px;width:62.22px;height:35.90px;"><div>8</div></div>
<div class="t c red" style="left:1132.98px;top:699.80px;width:62.22px;height:68.80px;"><div>暗剣</div></div>
<div class="t c num neg" style="left:1132.98px;top:768.60px;width:62.22px;height:36.60px;"><div>−8</div></div>
<div class="t c num" style="left:1132.98px;top:805.20px;width:62.22px;height:36.20px;"><div><span class="z">0</span></div></div>
<div class="t c hd" style="left:1132.98px;top:841.40px;width:62.22px;height:36.40px;"><div>15日</div></div>
<div class="b" style="left:1195.20px;top:366.00px;width:62.22px;height:43.50px;background:#FFFFA5;"></div>
<div class="b" style="left:1195.20px;top:445.50px;width:62.22px;height:72.50px;background:#FFFFE6;"></div>
<div class="b" style="left:1195.20px;top:582.70px;width:62.22px;height:117.10px;background:#FCE4D6;"></div>
<div class="b" style="left:1195.20px;top:841.40px;width:62.22px;height:36.40px;background:#FFFFA5;"></div>
<div class="t c hd hd1" style="left:1195.20px;top:366.00px;width:62.22px;height:43.50px;"><div>16日</div></div>
<div class="t c" style="left:1195.20px;top:409.50px;width:62.22px;height:36.00px;"><div>木</div></div>
<div class="t c" style="left:1195.20px;top:445.50px;width:62.22px;height:36.25px;"><div>乙</div></div>
<div class="t c" style="left:1195.20px;top:481.75px;width:62.22px;height:36.25px;"><div>酉</div></div>
<div class="t c lh2" style="left:1195.20px;top:518.00px;width:62.22px;height:64.70px;"><div>四緑<br>木星</div></div>
<div class="t c lh2" style="left:1195.20px;top:582.70px;width:62.22px;height:81.20px;"><div>準備<br>始動</div></div>
<div class="t c num" style="left:1195.20px;top:663.90px;width:62.22px;height:35.90px;"><div>2</div></div>
<div class="t c num" style="left:1195.20px;top:805.20px;width:62.22px;height:36.20px;"><div>2</div></div>
<div class="t c hd" style="left:1195.20px;top:841.40px;width:62.22px;height:36.40px;"><div>16日</div></div>
<div class="b" style="left:1257.42px;top:366.00px;width:62.22px;height:43.50px;background:#FFFFA5;"></div>
<div class="b" style="left:1257.42px;top:445.50px;width:62.22px;height:72.50px;background:#FFFFE6;"></div>
<div class="b" style="left:1257.42px;top:582.70px;width:62.22px;height:117.10px;background:#DDEBF7;"></div>
<div class="b" style="left:1257.42px;top:841.40px;width:62.22px;height:36.40px;background:#FFFFA5;"></div>
<div class="t c hd hd1" style="left:1257.42px;top:366.00px;width:62.22px;height:43.50px;"><div>17日</div></div>
<div class="t c" style="left:1257.42px;top:409.50px;width:62.22px;height:36.00px;"><div>金</div></div>
<div class="t c" style="left:1257.42px;top:445.50px;width:62.22px;height:36.25px;"><div>丙</div></div>
<div class="t c" style="left:1257.42px;top:481.75px;width:62.22px;height:36.25px;"><div>戌</div></div>
<div class="t c lh2" style="left:1257.42px;top:518.00px;width:62.22px;height:64.70px;"><div>五黄<br>土星</div></div>
<div class="t c lh2" style="left:1257.42px;top:582.70px;width:62.22px;height:81.20px;"><div>低迷<br>注意</div></div>
<div class="t c num neg" style="left:1257.42px;top:663.90px;width:62.22px;height:35.90px;"><div>−3</div></div>
<div class="t c num neg" style="left:1257.42px;top:805.20px;width:62.22px;height:36.20px;"><div>−3</div></div>
<div class="t c hd" style="left:1257.42px;top:841.40px;width:62.22px;height:36.40px;"><div>17日</div></div>
<div class="b" style="left:1319.64px;top:366.00px;width:62.22px;height:43.50px;background:#FFFFA5;"></div>
<div class="b" style="left:1319.64px;top:445.50px;width:62.22px;height:72.50px;background:#FFFFE6;"></div>
<div class="b" style="left:1319.64px;top:582.70px;width:62.22px;height:117.10px;background:#FCE4D6;"></div>
<div class="b" style="left:1319.64px;top:841.40px;width:62.22px;height:36.40px;background:#FFFFA5;"></div>
<div class="t c hd hd1" style="left:1319.64px;top:366.00px;width:62.22px;height:43.50px;"><div>18日</div></div>
<div class="t c" style="left:1319.64px;top:409.50px;width:62.22px;height:36.00px;"><div>土</div></div>
<div class="t c" style="left:1319.64px;top:445.50px;width:62.22px;height:36.25px;"><div>丁</div></div>
<div class="t c" style="left:1319.64px;top:481.75px;width:62.22px;height:36.25px;"><div>亥</div></div>
<div class="t c lh2" style="left:1319.64px;top:518.00px;width:62.22px;height:64.70px;"><div>六白<br>金星</div></div>
<div class="t c lh2" style="left:1319.64px;top:582.70px;width:62.22px;height:81.20px;"><div>明暗<br>慎重</div></div>
<div class="t c num" style="left:1319.64px;top:663.90px;width:62.22px;height:35.90px;"><div>5</div></div>
<div class="t c num" style="left:1319.64px;top:805.20px;width:62.22px;height:36.20px;"><div>5</div></div>
<div class="t c hd" style="left:1319.64px;top:841.40px;width:62.22px;height:36.40px;"><div>18日</div></div>
<div class="b" style="left:1381.86px;top:366.00px;width:62.22px;height:43.50px;background:#FFFFA5;"></div>
<div class="b" style="left:1381.86px;top:445.50px;width:62.22px;height:72.50px;background:#FFFFE6;"></div>
<div class="b" style="left:1381.86px;top:582.70px;width:62.22px;height:117.10px;background:#DDEBF7;"></div>
<div class="b" style="left:1381.86px;top:841.40px;width:62.22px;height:36.40px;background:#FFFFA5;"></div>
<div class="t c hd hd1" style="left:1381.86px;top:366.00px;width:62.22px;height:43.50px;"><div>19日</div></div>
<div class="t c red" style="left:1381.86px;top:409.50px;width:62.22px;height:36.00px;"><div>日</div></div>
<div class="t c" style="left:1381.86px;top:445.50px;width:62.22px;height:36.25px;"><div>戊</div></div>
<div class="t c" style="left:1381.86px;top:481.75px;width:62.22px;height:36.25px;"><div>子</div></div>
<div class="t c lh2" style="left:1381.86px;top:518.00px;width:62.22px;height:64.70px;"><div>七赤<br>金星</div></div>
<div class="t c lh2" style="left:1381.86px;top:582.70px;width:62.22px;height:81.20px;"><div>現状<br>維持</div></div>
<div class="t c num neg" style="left:1381.86px;top:663.90px;width:62.22px;height:35.90px;"><div>−2</div></div>
<div class="t c num neg" style="left:1381.86px;top:805.20px;width:62.22px;height:36.20px;"><div>−2</div></div>
<div class="t c hd" style="left:1381.86px;top:841.40px;width:62.22px;height:36.40px;"><div>19日</div></div>
<div class="b" style="left:1444.08px;top:366.00px;width:62.22px;height:43.50px;background:#FFFFA5;"></div>
<div class="b" style="left:1444.08px;top:445.50px;width:62.22px;height:72.50px;background:#FFFFE6;"></div>
<div class="b" style="left:1444.08px;top:582.70px;width:62.22px;height:117.10px;background:#FCE4D6;"></div>
<div class="b" style="left:1444.08px;top:841.40px;width:62.22px;height:36.40px;background:#FFFFA5;"></div>
<div class="t c hd hd1" style="left:1444.08px;top:366.00px;width:62.22px;height:43.50px;"><div>2<span class="z">0</span>日</div></div>
<div class="t c" style="left:1444.08px;top:409.50px;width:62.22px;height:36.00px;"><div>月</div></div>
<div class="t c" style="left:1444.08px;top:445.50px;width:62.22px;height:36.25px;"><div>己</div></div>
<div class="t c" style="left:1444.08px;top:481.75px;width:62.22px;height:36.25px;"><div>丑</div></div>
<div class="t c lh2" style="left:1444.08px;top:518.00px;width:62.22px;height:64.70px;"><div>八白<br>土星</div></div>
<div class="t c lh2" style="left:1444.08px;top:582.70px;width:62.22px;height:81.20px;"><div>金運<br>交際</div></div>
<div class="t c num" style="left:1444.08px;top:663.90px;width:62.22px;height:35.90px;"><div>6</div></div>
<div class="t c num" style="left:1444.08px;top:805.20px;width:62.22px;height:36.20px;"><div>6</div></div>
<div class="t c hd" style="left:1444.08px;top:841.40px;width:62.22px;height:36.40px;"><div>2<span class="z">0</span>日</div></div>
<div class="b" style="left:1506.30px;top:366.00px;width:62.22px;height:43.50px;background:#FFFFA5;"></div>
<div class="b" style="left:1506.30px;top:445.50px;width:62.22px;height:72.50px;background:#FFFFE6;"></div>
<div class="b" style="left:1506.30px;top:582.70px;width:62.22px;height:117.10px;background:#FCE4D6;"></div>
<div class="b" style="left:1506.30px;top:841.40px;width:62.22px;height:36.40px;background:#FFFFA5;"></div>
<div class="t c hd hd1" style="left:1506.30px;top:366.00px;width:62.22px;height:43.50px;"><div>21日</div></div>
<div class="t c" style="left:1506.30px;top:409.50px;width:62.22px;height:36.00px;"><div>火</div></div>
<div class="t c" style="left:1506.30px;top:445.50px;width:62.22px;height:36.25px;"><div>庚</div></div>
<div class="t c" style="left:1506.30px;top:481.75px;width:62.22px;height:36.25px;"><div>寅</div></div>
<div class="t c lh2" style="left:1506.30px;top:518.00px;width:62.22px;height:64.70px;"><div>九紫<br>火星</div></div>
<div class="t c lh2" style="left:1506.30px;top:582.70px;width:62.22px;height:81.20px;"><div>強運<br>傾運</div></div>
<div class="t c num" style="left:1506.30px;top:663.90px;width:62.22px;height:35.90px;"><div>7</div></div>
<div class="t c num" style="left:1506.30px;top:805.20px;width:62.22px;height:36.20px;"><div>7</div></div>
<div class="t c hd" style="left:1506.30px;top:841.40px;width:62.22px;height:36.40px;"><div>21日</div></div>
<div class="b" style="left:1568.52px;top:366.00px;width:62.22px;height:43.50px;background:#FFFFA5;"></div>
<div class="b" style="left:1568.52px;top:445.50px;width:62.22px;height:72.50px;background:#FFFFE6;"></div>
<div class="b" style="left:1568.52px;top:582.70px;width:62.22px;height:117.10px;background:#FCE4D6;"></div>
<div class="b" style="left:1568.52px;top:841.40px;width:62.22px;height:36.40px;background:#FFFFA5;"></div>
<div class="t c hd hd1" style="left:1568.52px;top:366.00px;width:62.22px;height:43.50px;"><div>22日</div></div>
<div class="t c" style="left:1568.52px;top:409.50px;width:62.22px;height:36.00px;"><div>水</div></div>
<div class="t c" style="left:1568.52px;top:445.50px;width:62.22px;height:36.25px;"><div>辛</div></div>
<div class="t c" style="left:1568.52px;top:481.75px;width:62.22px;height:36.25px;"><div>卯</div></div>
<div class="t c lh2" style="left:1568.52px;top:518.00px;width:62.22px;height:64.70px;"><div>一白<br>水星</div></div>
<div class="t c lh2" style="left:1568.52px;top:582.70px;width:62.22px;height:81.20px;"><div>盛極<br>静観</div></div>
<div class="t c num" style="left:1568.52px;top:663.90px;width:62.22px;height:35.90px;"><div>4</div></div>
<div class="t c num" style="left:1568.52px;top:805.20px;width:62.22px;height:36.20px;"><div>4</div></div>
<div class="t c hd" style="left:1568.52px;top:841.40px;width:62.22px;height:36.40px;"><div>22日</div></div>
<div class="b" style="left:1630.74px;top:366.00px;width:62.22px;height:43.50px;background:#FFFFA5;"></div>
<div class="b" style="left:1630.74px;top:445.50px;width:62.22px;height:72.50px;background:#FFFFE6;"></div>
<div class="b" style="left:1630.74px;top:582.70px;width:62.22px;height:117.10px;background:#FCE4D6;"></div>
<div class="b" style="left:1630.74px;top:841.40px;width:62.22px;height:36.40px;background:#FFFFA5;"></div>
<div class="t c hd hd1" style="left:1630.74px;top:366.00px;width:62.22px;height:43.50px;"><div>23日</div></div>
<div class="t c" style="left:1630.74px;top:409.50px;width:62.22px;height:36.00px;"><div>木</div></div>
<div class="t c" style="left:1630.74px;top:445.50px;width:62.22px;height:36.25px;"><div>壬</div></div>
<div class="t c" style="left:1630.74px;top:481.75px;width:62.22px;height:36.25px;"><div>辰</div></div>
<div class="t c lh2" style="left:1630.74px;top:518.00px;width:62.22px;height:64.70px;"><div>二黒<br>土星</div></div>
<div class="t c lh2" style="left:1630.74px;top:582.70px;width:62.22px;height:81.20px;"><div>福運<br>隆盛</div></div>
<div class="t c num" style="left:1630.74px;top:663.90px;width:62.22px;height:35.90px;"><div>9</div></div>
<div class="t c num" style="left:1630.74px;top:805.20px;width:62.22px;height:36.20px;"><div>9</div></div>
<div class="t c hd" style="left:1630.74px;top:841.40px;width:62.22px;height:36.40px;"><div>23日</div></div>
<div class="b" style="left:1692.96px;top:366.00px;width:62.22px;height:43.50px;background:#FFFFA5;"></div>
<div class="b" style="left:1692.96px;top:445.50px;width:62.22px;height:72.50px;background:#FFFFE6;"></div>
<div class="b" style="left:1692.96px;top:582.70px;width:62.22px;height:117.10px;background:#FCE4D6;"></div>
<div class="b" style="left:1692.96px;top:699.80px;width:62.22px;height:105.40px;background:#DDEBF7;"></div>
<div class="b" style="left:1692.96px;top:841.40px;width:62.22px;height:36.40px;background:#FFFFA5;"></div>
<div class="t c hd hd1" style="left:1692.96px;top:366.00px;width:62.22px;height:43.50px;"><div>24日</div></div>
<div class="t c" style="left:1692.96px;top:409.50px;width:62.22px;height:36.00px;"><div>金</div></div>
<div class="t c" style="left:1692.96px;top:445.50px;width:62.22px;height:36.25px;"><div>癸</div></div>
<div class="t c" style="left:1692.96px;top:481.75px;width:62.22px;height:36.25px;"><div>巳</div></div>
<div class="t c lh2" style="left:1692.96px;top:518.00px;width:62.22px;height:64.70px;"><div>三碧<br>木星</div></div>
<div class="t c lh2" style="left:1692.96px;top:582.70px;width:62.22px;height:81.20px;"><div>開運<br>発展</div></div>
<div class="t c num" style="left:1692.96px;top:663.90px;width:62.22px;height:35.90px;"><div>8</div></div>
<div class="t c red" style="left:1692.96px;top:699.80px;width:62.22px;height:68.80px;"><div>暗剣</div></div>
<div class="t c num neg" style="left:1692.96px;top:768.60px;width:62.22px;height:36.60px;"><div>−8</div></div>
<div class="t c num" style="left:1692.96px;top:805.20px;width:62.22px;height:36.20px;"><div><span class="z">0</span></div></div>
<div class="t c hd" style="left:1692.96px;top:841.40px;width:62.22px;height:36.40px;"><div>24日</div></div>
<div class="b" style="left:1755.18px;top:366.00px;width:62.22px;height:43.50px;background:#FFFFA5;"></div>
<div class="b" style="left:1755.18px;top:445.50px;width:62.22px;height:72.50px;background:#FFFFE6;"></div>
<div class="b" style="left:1755.18px;top:582.70px;width:62.22px;height:117.10px;background:#FCE4D6;"></div>
<div class="b" style="left:1755.18px;top:841.40px;width:62.22px;height:36.40px;background:#FFFFA5;"></div>
<div class="t c hd hd1" style="left:1755.18px;top:366.00px;width:62.22px;height:43.50px;"><div>25日</div></div>
<div class="t c" style="left:1755.18px;top:409.50px;width:62.22px;height:36.00px;"><div>土</div></div>
<div class="t c" style="left:1755.18px;top:445.50px;width:62.22px;height:36.25px;"><div>甲</div></div>
<div class="t c" style="left:1755.18px;top:481.75px;width:62.22px;height:36.25px;"><div>午</div></div>
<div class="t c lh2" style="left:1755.18px;top:518.00px;width:62.22px;height:64.70px;"><div>四緑<br>木星</div></div>
<div class="t c lh2" style="left:1755.18px;top:582.70px;width:62.22px;height:81.20px;"><div>準備<br>始動</div></div>
<div class="t c num" style="left:1755.18px;top:663.90px;width:62.22px;height:35.90px;"><div>2</div></div>
<div class="t c num" style="left:1755.18px;top:805.20px;width:62.22px;height:36.20px;"><div>2</div></div>
<div class="t c hd" style="left:1755.18px;top:841.40px;width:62.22px;height:36.40px;"><div>25日</div></div>
<div class="b" style="left:1817.40px;top:366.00px;width:62.22px;height:43.50px;background:#FFFFA5;"></div>
<div class="b" style="left:1817.40px;top:445.50px;width:62.22px;height:72.50px;background:#FFFFE6;"></div>
<div class="b" style="left:1817.40px;top:582.70px;width:62.22px;height:117.10px;background:#DDEBF7;"></div>
<div class="b" style="left:1817.40px;top:841.40px;width:62.22px;height:36.40px;background:#FFFFA5;"></div>
<div class="t c hd hd1" style="left:1817.40px;top:366.00px;width:62.22px;height:43.50px;"><div>26日</div></div>
<div class="t c red" style="left:1817.40px;top:409.50px;width:62.22px;height:36.00px;"><div>日</div></div>
<div class="t c" style="left:1817.40px;top:445.50px;width:62.22px;height:36.25px;"><div>乙</div></div>
<div class="t c" style="left:1817.40px;top:481.75px;width:62.22px;height:36.25px;"><div>未</div></div>
<div class="t c lh2" style="left:1817.40px;top:518.00px;width:62.22px;height:64.70px;"><div>五黄<br>土星</div></div>
<div class="t c lh2" style="left:1817.40px;top:582.70px;width:62.22px;height:81.20px;"><div>低迷<br>注意</div></div>
<div class="t c num neg" style="left:1817.40px;top:663.90px;width:62.22px;height:35.90px;"><div>−3</div></div>
<div class="t c num neg" style="left:1817.40px;top:805.20px;width:62.22px;height:36.20px;"><div>−3</div></div>
<div class="t c hd" style="left:1817.40px;top:841.40px;width:62.22px;height:36.40px;"><div>26日</div></div>
<div class="b" style="left:1879.62px;top:366.00px;width:62.22px;height:43.50px;background:#FFFFA5;"></div>
<div class="b" style="left:1879.62px;top:445.50px;width:62.22px;height:72.50px;background:#FFFFE6;"></div>
<div class="b" style="left:1879.62px;top:582.70px;width:62.22px;height:117.10px;background:#FCE4D6;"></div>
<div class="b" style="left:1879.62px;top:841.40px;width:62.22px;height:36.40px;background:#FFFFA5;"></div>
<div class="t c hd hd1" style="left:1879.62px;top:366.00px;width:62.22px;height:43.50px;"><div>27日</div></div>
<div class="t c" style="left:1879.62px;top:409.50px;width:62.22px;height:36.00px;"><div>月</div></div>
<div class="t c" style="left:1879.62px;top:445.50px;width:62.22px;height:36.25px;"><div>丙</div></div>
<div class="t c" style="left:1879.62px;top:481.75px;width:62.22px;height:36.25px;"><div>申</div></div>
<div class="t c lh2" style="left:1879.62px;top:518.00px;width:62.22px;height:64.70px;"><div>六白<br>金星</div></div>
<div class="t c lh2" style="left:1879.62px;top:582.70px;width:62.22px;height:81.20px;"><div>明暗<br>慎重</div></div>
<div class="t c num" style="left:1879.62px;top:663.90px;width:62.22px;height:35.90px;"><div>5</div></div>
<div class="t c num" style="left:1879.62px;top:805.20px;width:62.22px;height:36.20px;"><div>5</div></div>
<div class="t c hd" style="left:1879.62px;top:841.40px;width:62.22px;height:36.40px;"><div>27日</div></div>
<div class="b" style="left:1941.84px;top:366.00px;width:62.22px;height:43.50px;background:#FFFFA5;"></div>
<div class="b" style="left:1941.84px;top:445.50px;width:62.22px;height:72.50px;background:#FFFFE6;"></div>
<div class="b" style="left:1941.84px;top:582.70px;width:62.22px;height:117.10px;background:#DDEBF7;"></div>
<div class="b" style="left:1941.84px;top:841.40px;width:62.22px;height:36.40px;background:#FFFFA5;"></div>
<div class="t c hd hd1" style="left:1941.84px;top:366.00px;width:62.22px;height:43.50px;"><div>28日</div></div>
<div class="t c" style="left:1941.84px;top:409.50px;width:62.22px;height:36.00px;"><div>火</div></div>
<div class="t c" style="left:1941.84px;top:445.50px;width:62.22px;height:36.25px;"><div>丁</div></div>
<div class="t c" style="left:1941.84px;top:481.75px;width:62.22px;height:36.25px;"><div>酉</div></div>
<div class="t c lh2" style="left:1941.84px;top:518.00px;width:62.22px;height:64.70px;"><div>七赤<br>金星</div></div>
<div class="t c lh2" style="left:1941.84px;top:582.70px;width:62.22px;height:81.20px;"><div>現状<br>維持</div></div>
<div class="t c num neg" style="left:1941.84px;top:663.90px;width:62.22px;height:35.90px;"><div>−2</div></div>
<div class="t c num neg" style="left:1941.84px;top:805.20px;width:62.22px;height:36.20px;"><div>−2</div></div>
<div class="t c hd" style="left:1941.84px;top:841.40px;width:62.22px;height:36.40px;"><div>28日</div></div>
<div class="b" style="left:2004.06px;top:366.00px;width:62.22px;height:43.50px;background:#FFFFA5;"></div>
<div class="b" style="left:2004.06px;top:445.50px;width:62.22px;height:72.50px;background:#FFFFE6;"></div>
<div class="b" style="left:2004.06px;top:582.70px;width:62.22px;height:117.10px;background:#FCE4D6;"></div>
<div class="b" style="left:2004.06px;top:841.40px;width:62.22px;height:36.40px;background:#FFFFA5;"></div>
<div class="t c hd hd1" style="left:2004.06px;top:366.00px;width:62.22px;height:43.50px;"><div>29日</div></div>
<div class="t c" style="left:2004.06px;top:409.50px;width:62.22px;height:36.00px;"><div>水</div></div>
<div class="t c" style="left:2004.06px;top:445.50px;width:62.22px;height:36.25px;"><div>戊</div></div>
<div class="t c" style="left:2004.06px;top:481.75px;width:62.22px;height:36.25px;"><div>戌</div></div>
<div class="t c lh2" style="left:2004.06px;top:518.00px;width:62.22px;height:64.70px;"><div>八白<br>土星</div></div>
<div class="t c lh2" style="left:2004.06px;top:582.70px;width:62.22px;height:81.20px;"><div>金運<br>交際</div></div>
<div class="t c num" style="left:2004.06px;top:663.90px;width:62.22px;height:35.90px;"><div>6</div></div>
<div class="t c num" style="left:2004.06px;top:805.20px;width:62.22px;height:36.20px;"><div>6</div></div>
<div class="t c hd" style="left:2004.06px;top:841.40px;width:62.22px;height:36.40px;"><div>29日</div></div>
<div class="b" style="left:2066.28px;top:366.00px;width:62.22px;height:43.50px;background:#FFFFA5;"></div>
<div class="b" style="left:2066.28px;top:445.50px;width:62.22px;height:72.50px;background:#FFFFE6;"></div>
<div class="b" style="left:2066.28px;top:582.70px;width:62.22px;height:117.10px;background:#FCE4D6;"></div>
<div class="b" style="left:2066.28px;top:841.40px;width:62.22px;height:36.40px;background:#FFFFA5;"></div>
<div class="t c hd hd1" style="left:2066.28px;top:366.00px;width:62.22px;height:43.50px;"><div>3<span class="z">0</span>日</div></div>
<div class="t c" style="left:2066.28px;top:409.50px;width:62.22px;height:36.00px;"><div>木</div></div>
<div class="t c" style="left:2066.28px;top:445.50px;width:62.22px;height:36.25px;"><div>己</div></div>
<div class="t c" style="left:2066.28px;top:481.75px;width:62.22px;height:36.25px;"><div>亥</div></div>
<div class="t c lh2" style="left:2066.28px;top:518.00px;width:62.22px;height:64.70px;"><div>九紫<br>火星</div></div>
<div class="t c lh2" style="left:2066.28px;top:582.70px;width:62.22px;height:81.20px;"><div>強運<br>傾運</div></div>
<div class="t c num" style="left:2066.28px;top:663.90px;width:62.22px;height:35.90px;"><div>7</div></div>
<div class="t c num" style="left:2066.28px;top:805.20px;width:62.22px;height:36.20px;"><div>7</div></div>
<div class="t c hd" style="left:2066.28px;top:841.40px;width:62.22px;height:36.40px;"><div>3<span class="z">0</span>日</div></div>
<div class="b" style="left:2128.50px;top:366.00px;width:62.22px;height:43.50px;background:#FFFFA5;"></div>
<div class="b" style="left:2128.50px;top:445.50px;width:62.22px;height:72.50px;background:#FFFFE6;"></div>
<div class="b" style="left:2128.50px;top:582.70px;width:62.22px;height:117.10px;background:#FCE4D6;"></div>
<div class="b" style="left:2128.50px;top:841.40px;width:62.22px;height:36.40px;background:#FFFFA5;"></div>
<div class="t c hd hd1" style="left:2128.50px;top:366.00px;width:62.22px;height:43.50px;"><div>31日</div></div>
<div class="t c" style="left:2128.50px;top:409.50px;width:62.22px;height:36.00px;"><div>金</div></div>
<div class="t c" style="left:2128.50px;top:445.50px;width:62.22px;height:36.25px;"><div>庚</div></div>
<div class="t c" style="left:2128.50px;top:481.75px;width:62.22px;height:36.25px;"><div>子</div></div>
<div class="t c lh2" style="left:2128.50px;top:518.00px;width:62.22px;height:64.70px;"><div>一白<br>水星</div></div>
<div class="t c lh2" style="left:2128.50px;top:582.70px;width:62.22px;height:81.20px;"><div>盛極<br>静観</div></div>
<div class="t c num" style="left:2128.50px;top:663.90px;width:62.22px;height:35.90px;"><div>4</div></div>
<div class="t c num" style="left:2128.50px;top:805.20px;width:62.22px;height:36.20px;"><div>4</div></div>
<div class="t c hd" style="left:2128.50px;top:841.40px;width:62.22px;height:36.40px;"><div>31日</div></div>
<div class="b" style="left:261.90px;top:877.80px;width:1928.82px;height:432.80px;background:#FFF2CC;"></div>
<div class="b" style="left:144.00px;top:1310.60px;width:1548.96px;height:161.90px;background:#FFFFCC;"></div>
<div class="b" style="left:1692.96px;top:1310.60px;width:497.76px;height:161.90px;background:#FFF2CC;"></div>
<div class="b" style="left:143.00px;top:365.00px;width:2048.72px;height:2.00px;background:#000;"></div>
<div class="b" style="left:143.00px;top:408.50px;width:2048.72px;height:2.00px;background:#000;"></div>
<div class="b" style="left:143.00px;top:444.50px;width:2048.72px;height:2.00px;background:#000;"></div>
<div class="b" style="left:143.00px;top:480.75px;width:2048.72px;height:2.00px;background:#000;"></div>
<div class="b" style="left:143.00px;top:517.00px;width:2048.72px;height:2.00px;background:#000;"></div>
<div class="b" style="left:143.00px;top:581.70px;width:2048.72px;height:2.00px;background:#000;"></div>
<div class="b" style="left:143.00px;top:662.90px;width:2048.72px;height:2.00px;background:#000;"></div>
<div class="b" style="left:143.00px;top:698.80px;width:2048.72px;height:2.00px;background:#000;"></div>
<div class="b" style="left:143.00px;top:767.60px;width:2048.72px;height:2.00px;background:#000;"></div>
<div class="b" style="left:143.00px;top:804.20px;width:2048.72px;height:2.00px;background:#000;"></div>
<div class="b" style="left:143.00px;top:840.40px;width:2048.72px;height:2.00px;background:#000;"></div>
<div class="b" style="left:143.00px;top:876.80px;width:2048.72px;height:2.00px;background:#000;"></div>
<div class="b" style="left:143.00px;top:1021.00px;width:118.90px;height:2.00px;background:#000;"></div>
<div class="b" style="left:143.00px;top:1165.25px;width:118.90px;height:2.00px;background:#000;"></div>
<div class="b" style="left:143.00px;top:1309.60px;width:2048.72px;height:2.00px;background:#000;"></div>
<div class="b" style="left:143.00px;top:1471.50px;width:2048.72px;height:2.00px;background:#000;"></div>
<div class="b" style="left:143.00px;top:365.00px;width:2.00px;height:1108.50px;background:#000;"></div>
<div class="b" style="left:2189.72px;top:365.00px;width:2.00px;height:1108.50px;background:#000;"></div>
<div class="b" style="left:260.90px;top:366.00px;width:2.00px;height:944.60px;background:#000;"></div>
<div class="b" style="left:323.12px;top:366.00px;width:2.00px;height:511.80px;background:#000;"></div>
<div class="b" style="left:385.34px;top:366.00px;width:2.00px;height:511.80px;background:#000;"></div>
<div class="b" style="left:447.56px;top:366.00px;width:2.00px;height:511.80px;background:#000;"></div>
<div class="b" style="left:509.78px;top:366.00px;width:2.00px;height:511.80px;background:#000;"></div>
<div class="b" style="left:572.00px;top:366.00px;width:2.00px;height:511.80px;background:#000;"></div>
<div class="b" style="left:634.22px;top:366.00px;width:2.00px;height:511.80px;background:#000;"></div>
<div class="b" style="left:696.44px;top:366.00px;width:2.00px;height:511.80px;background:#000;"></div>
<div class="b" style="left:758.66px;top:366.00px;width:2.00px;height:511.80px;background:#000;"></div>
<div class="b" style="left:820.88px;top:366.00px;width:2.00px;height:511.80px;background:#000;"></div>
<div class="b" style="left:883.10px;top:366.00px;width:2.00px;height:511.80px;background:#000;"></div>
<div class="b" style="left:945.32px;top:366.00px;width:2.00px;height:511.80px;background:#000;"></div>
<div class="b" style="left:1007.54px;top:366.00px;width:2.00px;height:511.80px;background:#000;"></div>
<div class="b" style="left:1069.76px;top:366.00px;width:2.00px;height:511.80px;background:#000;"></div>
<div class="b" style="left:1131.98px;top:366.00px;width:2.00px;height:511.80px;background:#000;"></div>
<div class="b" style="left:1194.20px;top:366.00px;width:2.00px;height:511.80px;background:#000;"></div>
<div class="b" style="left:1256.42px;top:366.00px;width:2.00px;height:511.80px;background:#000;"></div>
<div class="b" style="left:1318.64px;top:366.00px;width:2.00px;height:511.80px;background:#000;"></div>
<div class="b" style="left:1380.86px;top:366.00px;width:2.00px;height:511.80px;background:#000;"></div>
<div class="b" style="left:1443.08px;top:366.00px;width:2.00px;height:511.80px;background:#000;"></div>
<div class="b" style="left:1505.30px;top:366.00px;width:2.00px;height:511.80px;background:#000;"></div>
<div class="b" style="left:1567.52px;top:366.00px;width:2.00px;height:511.80px;background:#000;"></div>
<div class="b" style="left:1629.74px;top:366.00px;width:2.00px;height:511.80px;background:#000;"></div>
<div class="b" style="left:1691.96px;top:366.00px;width:2.00px;height:511.80px;background:#000;"></div>
<div class="b" style="left:1754.18px;top:366.00px;width:2.00px;height:511.80px;background:#000;"></div>
<div class="b" style="left:1816.40px;top:366.00px;width:2.00px;height:511.80px;background:#000;"></div>
<div class="b" style="left:1878.62px;top:366.00px;width:2.00px;height:511.80px;background:#000;"></div>
<div class="b" style="left:1940.84px;top:366.00px;width:2.00px;height:511.80px;background:#000;"></div>
<div class="b" style="left:2003.06px;top:366.00px;width:2.00px;height:511.80px;background:#000;"></div>
<div class="b" style="left:2065.28px;top:366.00px;width:2.00px;height:511.80px;background:#000;"></div>
<div class="b" style="left:2127.50px;top:366.00px;width:2.00px;height:511.80px;background:#000;"></div>
<div class="b" style="left:1691.96px;top:1310.60px;width:2.00px;height:161.90px;background:#000;"></div>
<div class="b" style="left:145.00px;top:839.90px;width:115.90px;height:3.00px;background:#FFFFA5;"></div>
<svg class="ch" width="2339" height="1654" viewBox="0 0 2339 1654"><defs><clipPath id="cp"><rect x="262.9" y="876.2" width="1926.8" height="433.6"/></clipPath></defs><g clip-path="url(#cp)"><line x1="263.75" y1="1198.2" x2="2186.8" y2="1198.2" stroke="#B5AC8E" stroke-width="1.8"/><polyline fill="none" stroke="#002060" stroke-width="7.8" stroke-linejoin="round" points="294.5,1268.8 356.6,987.0 418.6,951.8 480.6,1057.5 542.7,1163.1 604.8,1198.3 666.8,1127.9 728.8,1304.0 790.9,1022.3 852.9,1268.8 915.0,987.0 977.0,1233.6 1039.1,1057.5 1101.2,881.4 1163.2,1198.3 1225.2,1127.9 1287.3,1304.0 1349.3,1022.3 1411.4,1268.8 1473.5,987.0 1535.5,951.8 1597.5,1057.5 1659.6,881.4 1721.6,1198.3 1783.7,1127.9 1845.8,1304.0 1907.8,1022.3 1969.8,1268.8 2031.9,987.0 2093.9,951.8 2156.0,1057.5"/><polygon fill="#D00000" points="294.5,1261.1 302.2,1268.8 294.5,1276.5 286.8,1268.8"/><polygon fill="#D00000" points="356.6,979.3 364.2,987.0 356.6,994.7 348.9,987.0"/><polygon fill="#D00000" points="418.6,944.1 426.3,951.8 418.6,959.5 410.9,951.8"/><polygon fill="#D00000" points="480.6,1049.8 488.3,1057.5 480.6,1065.2 472.9,1057.5"/><polygon fill="#D00000" points="542.7,1155.4 550.4,1163.1 542.7,1170.8 535.0,1163.1"/><polygon fill="#D00000" points="604.8,1190.6 612.5,1198.3 604.8,1206.0 597.0,1198.3"/><polygon fill="#D00000" points="666.8,1120.2 674.5,1127.9 666.8,1135.6 659.1,1127.9"/><polygon fill="#D00000" points="728.8,1296.3 736.5,1304.0 728.8,1311.7 721.1,1304.0"/><polygon fill="#D00000" points="790.9,1014.6 798.6,1022.3 790.9,1030.0 783.2,1022.3"/><polygon fill="#D00000" points="852.9,1261.1 860.6,1268.8 852.9,1276.5 845.2,1268.8"/><polygon fill="#D00000" points="915.0,979.3 922.7,987.0 915.0,994.7 907.3,987.0"/><polygon fill="#D00000" points="977.0,1225.9 984.8,1233.6 977.0,1241.3 969.3,1233.6"/><polygon fill="#D00000" points="1039.1,1049.8 1046.8,1057.5 1039.1,1065.2 1031.4,1057.5"/><polygon fill="#D00000" points="1101.2,873.7 1108.9,881.4 1101.2,889.1 1093.5,881.4"/><polygon fill="#D00000" points="1163.2,1190.6 1170.9,1198.3 1163.2,1206.0 1155.5,1198.3"/><polygon fill="#D00000" points="1225.2,1120.2 1233.0,1127.9 1225.2,1135.6 1217.5,1127.9"/><polygon fill="#D00000" points="1287.3,1296.3 1295.0,1304.0 1287.3,1311.7 1279.6,1304.0"/><polygon fill="#D00000" points="1349.3,1014.6 1357.0,1022.3 1349.3,1030.0 1341.6,1022.3"/><polygon fill="#D00000" points="1411.4,1261.1 1419.1,1268.8 1411.4,1276.5 1403.7,1268.8"/><polygon fill="#D00000" points="1473.5,979.3 1481.2,987.0 1473.5,994.7 1465.8,987.0"/><polygon fill="#D00000" points="1535.5,944.1 1543.2,951.8 1535.5,959.5 1527.8,951.8"/><polygon fill="#D00000" points="1597.5,1049.8 1605.2,1057.5 1597.5,1065.2 1589.8,1057.5"/><polygon fill="#D00000" points="1659.6,873.7 1667.3,881.4 1659.6,889.1 1651.9,881.4"/><polygon fill="#D00000" points="1721.6,1190.6 1729.3,1198.3 1721.6,1206.0 1713.9,1198.3"/><polygon fill="#D00000" points="1783.7,1120.2 1791.4,1127.9 1783.7,1135.6 1776.0,1127.9"/><polygon fill="#D00000" points="1845.8,1296.3 1853.5,1304.0 1845.8,1311.7 1838.0,1304.0"/><polygon fill="#D00000" points="1907.8,1014.6 1915.5,1022.3 1907.8,1030.0 1900.1,1022.3"/><polygon fill="#D00000" points="1969.8,1261.1 1977.5,1268.8 1969.8,1276.5 1962.1,1268.8"/><polygon fill="#D00000" points="2031.9,979.3 2039.6,987.0 2031.9,994.7 2024.2,987.0"/><polygon fill="#D00000" points="2093.9,944.1 2101.6,951.8 2093.9,959.5 2086.2,951.8"/><polygon fill="#D00000" points="2156.0,1049.8 2163.7,1057.5 2156.0,1065.2 2148.3,1057.5"/></g></svg>
<div class="lg" style="left:360.5px;top:1332.5px;"><span style="color:#FF0000">好調期</span>／今までの計画を積極的に行動に移しチャレンジする時期<br><span style="color:#00B050">安定期</span>／基本を確認しながら心身を安定させて地道な活動をする時期<br><span style="color:#0070C0">低迷期</span>／現状維持と健康に配慮し開運期への計画・準備をする時期</div>
<div class="nb" style="left:1697.5px;top:1331.0px;letter-spacing:2.25px">※当サイトの内容、テキスト、画像等の</div>
<div class="nb" style="left:1694.5px;top:1360.5px;letter-spacing:1.52px"><span class="r">「無断転載・使用、許可なく販売」</span>を固く禁</div>
<div class="nb" style="left:1696px;top:1391.0px;letter-spacing:2.43px">じます。また、まとめサイト等への引用を</div>
<div class="nb" style="left:1699px;top:1421.5px;letter-spacing:1.27px">厳禁致します　<span class="r">「非売品・無料版」</span></div>
</div></body></html>
